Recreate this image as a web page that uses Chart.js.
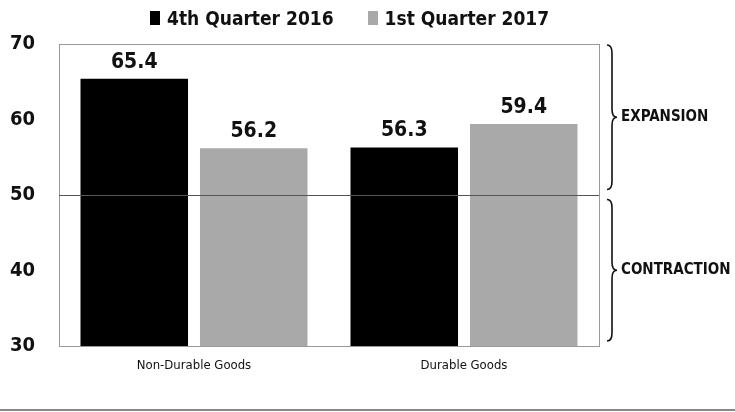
<!DOCTYPE html>
<html lang="en">
<head>
  <meta charset="UTF-8">
  <title>Expansion / Contraction</title>
  <script src="https://cdn.jsdelivr.net/npm/chart.js"></script>
  <style>
    body {
      margin: 0;
      padding: 0;
      background: #fff;
      overflow: hidden;
      font-family: 'DejaVu Sans Condensed', 'Liberation Sans', sans-serif;
    }
    .chart-container {
      position: relative;
      width: 735px;
      height: 412px;
    }
    .legend {
      position: absolute;
      top: 7px;
      left: 150px;
      display: flex;
      align-items: center;
      font-weight: bold;
      font-size: 19px;
      color: #111;
      line-height: 22px;
    }
    .legend .item {
      display: flex;
      align-items: center;
      margin-right: 34px;
    }
    .legend .swatch {
      width: 10px;
      height: 14px;
      margin-right: 7px;
    }
  </style>
</head>
<body>
  <div class="chart-container">
    <div class="legend" id="legend"></div>
    <canvas id="pmiChart"></canvas>
  </div>

  <script>
    const categories = ['Non-Durable Goods', 'Durable Goods'];
    const seriesNames = ['4th Quarter 2016', '1st Quarter 2017'];
    const seriesColors = ['#000000', '#a9a9a9'];
    const q4_2016 = [65.4, 56.3];
    const q1_2017 = [56.2, 59.4];
    const yTicks = [30, 40, 50, 60, 70];
    const threshold = 50;
    const zoneLabels = ['EXPANSION', 'CONTRACTION'];

    const FONT = "'DejaVu Sans Condensed', 'Liberation Sans', sans-serif";

    // legend
    const legendEl = document.getElementById('legend');
    seriesNames.forEach((name, i) => {
      const item = document.createElement('div');
      item.className = 'item';
      item.innerHTML = '<div class="swatch" style="background:' + seriesColors[i] + '"></div><span>' + name + '</span>';
      legendEl.appendChild(item);
    });

    // value labels above the bars
    const valueLabels = {
      id: 'valueLabels',
      afterDatasetsDraw(chart) {
        const ctx = chart.ctx;
        ctx.save();
        ctx.font = 'bold 21px ' + FONT;
        ctx.fillStyle = '#111';
        ctx.textAlign = 'center';
        ctx.textBaseline = 'bottom';
        chart.data.datasets.forEach((ds, i) => {
          chart.getDatasetMeta(i).data.forEach((bar, j) => {
            ctx.fillText(ds.data[j].toFixed(1), bar.x, bar.y - 6);
          });
        });
        ctx.restore();
      }
    };

    // frame, 50 line, braces, bottom rule
    const decorations = {
      id: 'decorations',
      afterDraw(chart) {
        const ctx = chart.ctx;
        const a = chart.chartArea;
        const y = chart.scales.y;
        ctx.save();

        ctx.strokeStyle = '#999';
        ctx.lineWidth = 1;
        ctx.strokeRect(a.left + 0.5, a.top + 0.5, a.right - a.left, a.bottom - a.top);

        const y50 = Math.round(y.getPixelForValue(threshold)) + 0.5;
        ctx.strokeStyle = '#555';
        ctx.beginPath();
        ctx.moveTo(a.left, y50);
        ctx.lineTo(a.right, y50);
        ctx.stroke();

        // braces
        function brace(x, top, bottom) {
          const mid = (top + bottom) / 2;
          const w = 5;
          ctx.beginPath();
          ctx.moveTo(x, top);
          ctx.quadraticCurveTo(x + w, top, x + w, top + 8);
          ctx.lineTo(x + w, mid - 8);
          ctx.quadraticCurveTo(x + w, mid, x + 2 * w, mid);
          ctx.quadraticCurveTo(x + w, mid, x + w, mid + 8);
          ctx.lineTo(x + w, bottom - 8);
          ctx.quadraticCurveTo(x + w, bottom, x, bottom);
          ctx.stroke();
          return mid;
        }
        ctx.strokeStyle = '#111';
        ctx.lineWidth = 1.6;
        const bx = a.right + 8;
        const m1 = brace(bx, y.getPixelForValue(yTicks[4]) + 1, y50 - 6);
        const m2 = brace(bx, y50 + 4, y.getPixelForValue(yTicks[0]) - 5);

        ctx.font = 'bold 15px ' + FONT;
        ctx.fillStyle = '#111';
        ctx.textAlign = 'left';
        ctx.textBaseline = 'middle';
        ctx.fillText(zoneLabels[0], bx + 14, m1);
        ctx.fillText(zoneLabels[1], bx + 14, m2);

        ctx.strokeStyle = '#888';
        ctx.lineWidth = 2;
        ctx.beginPath();
        ctx.moveTo(0, chart.height - 2);
        ctx.lineTo(chart.width, chart.height - 2);
        ctx.stroke();

        ctx.restore();
      }
    };

    new Chart(document.getElementById('pmiChart').getContext('2d'), {
      type: 'bar',
      data: {
        labels: categories,
        datasets: [
          {
            label: seriesNames[0],
            data: q4_2016,
            backgroundColor: seriesColors[0],
            categoryPercentage: 0.885,
            barPercentage: 0.9
          },
          {
            label: seriesNames[1],
            data: q1_2017,
            backgroundColor: seriesColors[1],
            categoryPercentage: 0.885,
            barPercentage: 0.9
          }
        ]
      },
      options: {
        responsive: true,
        maintainAspectRatio: false,
        animation: false,
        layout: {
          padding: { left: 8, right: 136, top: 44, bottom: 4 }
        },
        plugins: {
          legend: { display: false },
          tooltip: { enabled: false }
        },
        scales: {
          x: {
            grid: { display: false, drawTicks: false },
            border: { color: '#999' },
            ticks: {
              color: '#111',
              padding: 12,
              font: { family: FONT, size: 13 }
            },
            afterFit(scale) { scale.height = 62; }
          },
          y: {
            min: 30,
            max: 70,
            afterBuildTicks(scale) {
              scale.ticks = yTicks.map(v => ({ value: v }));
            },
            grid: { display: false, drawTicks: false },
            border: { color: '#999' },
            ticks: {
              color: '#111',
              padding: 24,
              font: { family: FONT, size: 20, weight: 'bold' }
            },
            afterFit(scale) { scale.width = 51; }
          }
        }
      },
      plugins: [valueLabels, decorations]
    });
  </script>
</body>
</html>
